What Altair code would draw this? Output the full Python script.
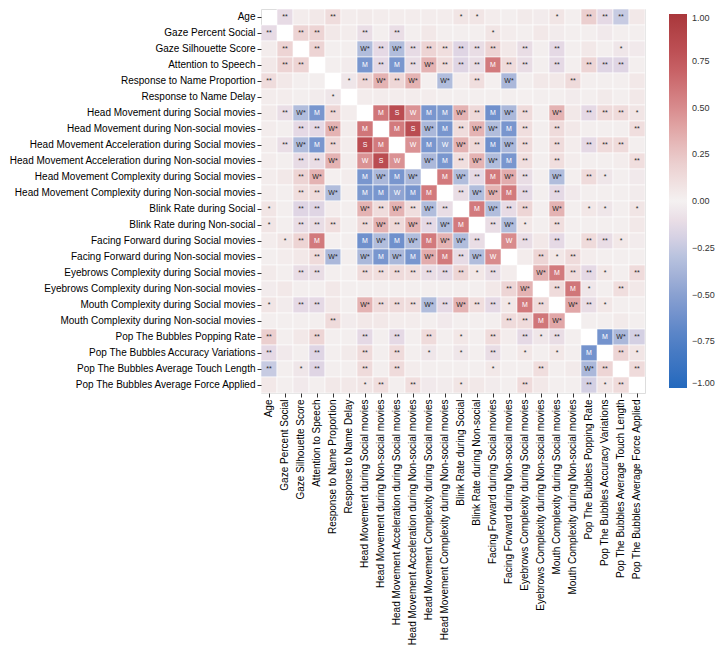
import altair as alt
import pandas as pd

variables = [
    "Age",
    "Gaze Percent Social",
    "Gaze Silhouette Score",
    "Attention to Speech",
    "Response to Name Proportion",
    "Response to Name Delay",
    "Head Movement during Social movies",
    "Head Movement during Non-social movies",
    "Head Movement Acceleration during Social movies",
    "Head Movement Acceleration during Non-social movies",
    "Head Movement Complexity during Social movies",
    "Head Movement Complexity during Non-social movies",
    "Blink Rate during Social",
    "Blink Rate during Non-social",
    "Facing Forward during Social movies",
    "Facing Forward during Non-social movies",
    "Eyebrows Complexity during Social movies",
    "Eyebrows Complexity during Non-social movies",
    "Mouth Complexity during Social movies",
    "Mouth Complexity during Non-social movies",
    "Pop The Bubbles Popping Rate",
    "Pop The Bubbles Accuracy Variations",
    "Pop The Bubbles Average Touch Length",
    "Pop The Bubbles Average Force Applied",
]

# lower triangle: row i holds correlations with columns 0..i-1
lower_values = [
    [],
    [-0.12],
    [0.03, 0.17],
    [0.05, 0.17, 0.17],
    [0.12, 0.05, 0.02, 0.02],
    [0.03, 0.03, 0.02, -0.03, -0.06],
    [0.04, -0.10, -0.33, -0.58, 0.15, 0.03],
    [0.03, 0.02, -0.13, -0.13, 0.33, 0.03, 0.60],
    [0.03, -0.10, -0.33, -0.58, 0.15, 0.03, 0.83, 0.58],
    [0.03, 0.02, -0.12, -0.11, 0.33, 0.03, 0.47, 0.83, 0.47],
    [0.03, 0.05, 0.17, 0.33, 0.01, 0.03, -0.58, -0.36, -0.58, -0.36],
    [0.03, 0.02, 0.11, 0.12, -0.33, 0.02, -0.56, -0.58, -0.48, -0.58, 0.58],
    [0.07, 0.02, -0.16, -0.16, 0.03, 0.02, 0.33, 0.12, 0.33, 0.11, -0.33, -0.11],
    [0.07, 0.02, -0.11, -0.11, 0.11, 0.02, 0.14, 0.33, 0.14, 0.33, -0.13, -0.33, 0.58],
    [0.03, 0.07, 0.17, 0.58, 0.01, 0.02, -0.62, -0.33, -0.62, -0.33, 0.58, 0.33, -0.33, -0.11],
    [0.02, 0.03, 0.05, 0.13, -0.36, 0.02, -0.36, -0.58, -0.36, -0.58, 0.36, 0.58, -0.12, -0.33, 0.50],
    [0.04, 0.02, -0.11, -0.11, 0.02, 0.01, 0.13, 0.11, 0.13, 0.11, -0.11, -0.13, 0.16, 0.06, -0.11, 0.03],
    [-0.03, 0.05, 0.02, 0.02, 0.05, 0.02, 0.02, 0.02, 0.02, 0.02, 0.02, 0.02, 0.02, 0.02, 0.05, 0.16, 0.33],
    [0.07, -0.03, -0.13, -0.13, 0.05, 0.02, 0.33, 0.13, 0.13, 0.11, -0.33, -0.13, 0.33, 0.11, -0.13, 0.06, 0.58, 0.13],
    [0.02, 0.02, 0.02, 0.02, 0.13, -0.03, 0.05, 0.05, 0.03, 0.03, 0.02, -0.04, 0.02, 0.02, 0.02, 0.13, 0.13, 0.60, 0.38],
    [0.20, 0.02, 0.05, 0.16, 0.02, 0.02, -0.13, 0.02, -0.13, 0.02, 0.13, 0.02, 0.06, 0.02, 0.13, 0.03, -0.13, -0.06, -0.11, 0.02],
    [-0.13, -0.04, 0.02, -0.16, 0.02, 0.04, 0.13, 0.02, 0.13, 0.02, -0.06, 0.02, -0.06, 0.02, -0.11, 0.02, 0.06, 0.02, 0.06, 0.02, -0.60],
    [-0.24, 0.02, -0.06, -0.16, 0.02, 0.02, 0.13, 0.02, 0.13, 0.03, 0.02, 0.02, 0.02, 0.02, 0.05, 0.02, 0.02, 0.11, 0.02, 0.04, -0.36, 0.16],
    [0.05, 0.02, -0.04, 0.02, 0.05, 0.05, 0.07, 0.11, 0.02, 0.11, -0.04, -0.03, 0.07, 0.05, -0.03, 0.02, 0.13, 0.05, 0.02, 0.02, -0.20, 0.07, 0.13],
]

lower_labels = [
    [],
    ["**"],
    ["", "**"],
    ["", "**", "**"],
    ["**", "", "", ""],
    ["", "", "", "", "*"],
    ["", "**", "W*", "M", "**", ""],
    ["", "", "**", "**", "W*", "", "M"],
    ["", "**", "W*", "M", "**", "", "S", "M"],
    ["", "", "**", "**", "W*", "", "W", "S", "W"],
    ["", "", "**", "W*", "", "", "M", "W*", "M", "W*"],
    ["", "", "**", "**", "W*", "", "M", "M", "W", "M", "M"],
    ["*", "", "**", "**", "", "", "W*", "**", "W*", "**", "W*", "**"],
    ["*", "", "**", "**", "**", "", "**", "W*", "**", "W*", "**", "W*", "M"],
    ["", "*", "**", "M", "", "", "M", "W*", "M", "W*", "M", "W*", "W*", "**"],
    ["", "", "", "**", "W*", "", "W*", "M", "W*", "M", "W*", "M", "**", "W*", "W"],
    ["", "", "**", "**", "", "", "**", "**", "**", "**", "**", "**", "**", "*", "**", ""],
    ["", "", "", "", "", "", "", "", "", "", "", "", "", "", "", "**", "W*"],
    ["*", "", "**", "**", "", "", "W*", "**", "**", "**", "W*", "**", "W*", "**", "**", "*", "M", "**"],
    ["", "", "", "", "**", "", "", "", "", "", "", "", "", "", "", "**", "**", "M", "W*"],
    ["**", "", "", "**", "", "", "**", "", "**", "", "**", "", "*", "", "**", "", "**", "*", "**", ""],
    ["**", "", "", "**", "", "", "**", "", "**", "", "*", "", "*", "", "**", "", "*", "", "*", "", "M"],
    ["**", "", "*", "**", "", "", "**", "", "**", "", "", "", "", "", "*", "", "", "**", "", "", "W*", "**"],
    ["", "", "", "", "", "", "*", "**", "", "**", "", "", "*", "", "", "", "**", "", "", "", "**", "*", "**"],
]

legend_values = [1.0, 0.75, 0.5, 0.25, 0.0, -0.25, -0.5, -0.75, -1.0]
color_domain = [-1.0, -0.75, -0.5, -0.25, 0.0, 0.25, 0.5, 0.75, 1.0]
color_range = ["#2369bd", "#4f7fc6", "#8aa1d1", "#c3cae1", "#f4f1f1",
               "#e9c6c6", "#d88b8d", "#c2565b", "#a9373b"]

records = []
for i in range(len(variables)):
    for j in range(i):
        v = lower_values[i][j]
        lab = lower_labels[i][j]
        records.append({"row": variables[i], "col": variables[j], "r": v, "label": lab})
        records.append({"row": variables[j], "col": variables[i], "r": v, "label": lab})
df = pd.DataFrame(records)

FONT = "Liberation Sans"
SIZE = 384

x_enc = alt.X(
    "col:N", sort=variables, title=None,
    scale=alt.Scale(paddingInner=0, paddingOuter=0),
    axis=alt.Axis(labelAngle=270, labelFontSize=10, labelFont=FONT, labelColor="black",
                  tickSize=4, tickColor="#333333", domain=False, labelLimit=320,
                  labelPadding=2),
)
y_enc = alt.Y(
    "row:N", sort=variables, title=None,
    scale=alt.Scale(paddingInner=0, paddingOuter=0),
    axis=alt.Axis(labelFontSize=10, labelFont=FONT, labelColor="black",
                  tickSize=4, tickColor="#333333", domain=False, labelLimit=320,
                  labelPadding=2),
)

base = alt.Chart(df).encode(x=x_enc, y=y_enc)

rect = base.mark_rect(stroke="white", strokeWidth=0.6).encode(
    color=alt.Color(
        "r:Q",
        scale=alt.Scale(type="linear", domain=color_domain, range=color_range, clamp=True),
        legend=alt.Legend(
            title=None, orient="none", legendX=SIZE + 24, legendY=5, direction="vertical",
            gradientLength=SIZE - 10, gradientThickness=18, gradientStrokeWidth=0,
            values=legend_values, format=".2f", labelFontSize=9, labelFont=FONT,
            labelColor="#333333", labelOffset=5,
        ),
    )
)

text = base.mark_text(fontSize=7, font=FONT).encode(
    text="label:N",
    color=alt.condition("abs(datum.r) >= 0.45", alt.value("white"), alt.value("#262626")),
)

chart = (
    alt.layer(rect, text)
    .properties(width=SIZE, height=SIZE, padding={"left": 0, "top": 0, "right": 0, "bottom": 0})
    .configure_view(stroke=None)
    .configure(background="white")
)

chart.save("out.html", embed_options={"renderer": "svg", "actions": False})
